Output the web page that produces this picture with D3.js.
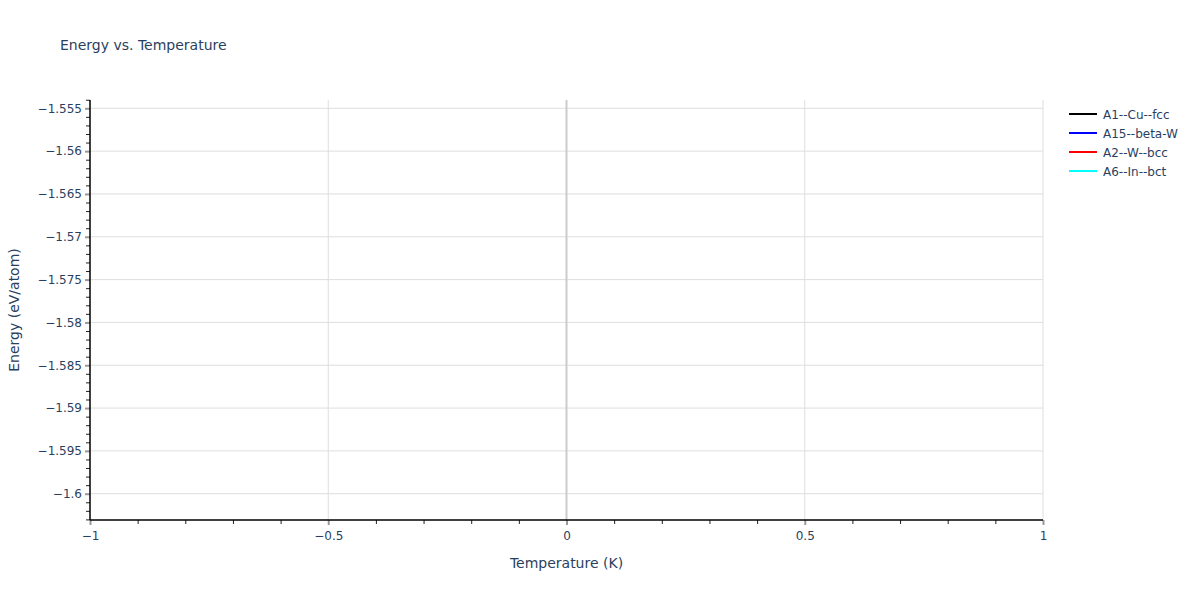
<!DOCTYPE html>
<html>
<head>
<meta charset="utf-8">
<script src="https://cdn.jsdelivr.net/npm/d3@7"></script>
<style>
  body { margin: 0; background: #fff; }
  text { font-family: Verdana, "DejaVu Sans", sans-serif; fill: #2a3f5f; }
</style>
</head>
<body>
<div id="chart"></div>
<script>
// Chart data
// =================================
var seriesNames = ["A1--Cu--fcc", "A15--beta-W", "A2--W--bcc", "A6--In--bct"];
var seriesColors = ["black", "blue", "red", "cyan"];
// no points fall inside the visible range, the traces are empty
var seriesTemps = [[], [], [], []];
var seriesEnergies = [[], [], [], []];

var xTicks = [-1, -0.5, 0, 0.5, 1];
var xTickLabels = ["\u22121", "\u22120.5", "0", "0.5", "1"];
var yTicks = [-1.555, -1.56, -1.565, -1.57, -1.575, -1.58, -1.585, -1.59, -1.595, -1.6];
var yTickLabels = ["\u22121.555", "\u22121.56", "\u22121.565", "\u22121.57", "\u22121.575",
                   "\u22121.58", "\u22121.585", "\u22121.59", "\u22121.595", "\u22121.6"];
var xDomain = [-1, 1];
var yDomain = [-1.60307, -1.55403];

// Step 1: chart area
// =================================
var svgWidth = 1200;
var svgHeight = 600;
var margin = { top: 100, right: 157, bottom: 80, left: 90 };
var width = svgWidth - margin.left - margin.right;
var height = svgHeight - margin.top - margin.bottom;

var svg = d3.select("#chart")
    .append("svg")
    .attr("width", svgWidth)
    .attr("height", svgHeight);

var chartGroup = svg.append("g")
    .attr("transform", `translate(${margin.left}, ${margin.top})`);

// Step 2: scales
// =================================
var xScale = d3.scaleLinear().domain(xDomain).range([0, width]);
var yScale = d3.scaleLinear().domain(yDomain).range([height, 0]);

// Step 3: grid lines
// =================================
chartGroup.append("g")
    .selectAll("line")
    .data(yTicks)
    .enter()
    .append("line")
    .attr("x1", 0)
    .attr("x2", width)
    .attr("y1", d => yScale(d))
    .attr("y2", d => yScale(d))
    .attr("stroke", "#dedede")
    .attr("stroke-width", 1);

chartGroup.append("g")
    .selectAll("line")
    .data(xTicks.filter(d => d !== 0 && d !== -1))
    .enter()
    .append("line")
    .attr("x1", d => xScale(d))
    .attr("x2", d => xScale(d))
    .attr("y1", 0)
    .attr("y2", height)
    .attr("stroke", "#dedede")
    .attr("stroke-width", 1);

// zero line
chartGroup.append("line")
    .attr("x1", xScale(0))
    .attr("x2", xScale(0))
    .attr("y1", 0)
    .attr("y2", height)
    .attr("stroke", "#cccccc")
    .attr("stroke-width", 2);

// Step 4: series lines (empty)
// =================================
var line = d3.line()
    .x(d => xScale(d[0]))
    .y(d => yScale(d[1]));

seriesNames.forEach(function (name, i) {
    var pts = seriesTemps[i].map((t, j) => [t, seriesEnergies[i][j]]);
    chartGroup.append("path")
        .datum(pts)
        .attr("fill", "none")
        .attr("stroke", seriesColors[i])
        .attr("stroke-width", 2)
        .attr("d", line);
});

// Step 5: axes with minor ticks
// =================================
var xMinor = d3.range(-10, 11).map(d => d / 10).filter(d => Math.abs(d * 2 - Math.round(d * 2)) > 1e-9);
var yMinor = d3.range(1554, 1604).map(d => -d / 1000).filter(d => Math.abs(d * 200 - Math.round(d * 200)) > 1e-9);

var xMinorAxis = d3.axisBottom(xScale).tickValues(xMinor).tickSize(4).tickFormat("");
var xMajorAxis = d3.axisBottom(xScale).tickValues(xTicks).tickSize(5)
    .tickFormat((d, i) => xTickLabels[i]).tickPadding(6);
var yMinorAxis = d3.axisLeft(yScale).tickValues(yMinor).tickSize(4).tickFormat("");
var yMajorAxis = d3.axisLeft(yScale).tickValues(yTicks).tickSize(5)
    .tickFormat((d, i) => yTickLabels[i]).tickPadding(3);

var gxMinor = chartGroup.append("g").attr("transform", `translate(0, ${height})`).call(xMinorAxis);
var gxMajor = chartGroup.append("g").attr("transform", `translate(0, ${height})`).call(xMajorAxis);
var gyMinor = chartGroup.append("g").call(yMinorAxis);
var gyMajor = chartGroup.append("g").call(yMajorAxis);

[gxMinor, gxMajor, gyMinor, gyMajor].forEach(function (g) {
    g.select(".domain").remove();
    g.selectAll("text").attr("font-size", 12).attr("fill", "#2a3f5f")
        .attr("font-family", "Verdana, 'DejaVu Sans', sans-serif");
});
gxMinor.selectAll(".tick line").attr("stroke", "#222").attr("stroke-width", 1);
gyMinor.selectAll(".tick line").attr("stroke", "#222").attr("stroke-width", 1);
gxMajor.selectAll(".tick line").attr("stroke", "#999").attr("stroke-width", 2);
gyMajor.selectAll(".tick line").attr("stroke", "#999").attr("stroke-width", 2);

// axis lines
chartGroup.append("line")
    .attr("x1", 0).attr("x2", width)
    .attr("y1", height).attr("y2", height)
    .attr("stroke", "black").attr("stroke-width", 1.5);
chartGroup.append("line")
    .attr("x1", 0).attr("x2", 0)
    .attr("y1", 0).attr("y2", height)
    .attr("stroke", "black").attr("stroke-width", 1.5);

// Step 6: titles
// =================================
svg.append("text")
    .attr("x", 60)
    .attr("y", 50)
    .attr("font-size", 14)
    .text("Energy vs. Temperature");

svg.append("text")
    .attr("x", margin.left + width / 2)
    .attr("y", 568)
    .attr("text-anchor", "middle")
    .attr("font-size", 14)
    .text("Temperature (K)");

svg.append("text")
    .attr("transform", `translate(19, ${margin.top + height / 2}) rotate(-90)`)
    .attr("text-anchor", "middle")
    .attr("font-size", 14)
    .text("Energy (eV/atom)");

// Step 7: legend
// =================================
var legend = svg.append("g")
    .attr("transform", "translate(1069, 114)");

var legendItems = legend.selectAll("g")
    .data(seriesNames)
    .enter()
    .append("g")
    .attr("transform", (d, i) => `translate(0, ${i * 19})`);

legendItems.append("line")
    .attr("x1", 0).attr("x2", 28)
    .attr("y1", 0).attr("y2", 0)
    .attr("stroke", (d, i) => seriesColors[i])
    .attr("stroke-width", 2);

legendItems.append("text")
    .attr("x", 34)
    .attr("y", 4.5)
    .attr("font-size", 12)
    .text(d => d);
</script>
</body>
</html>
